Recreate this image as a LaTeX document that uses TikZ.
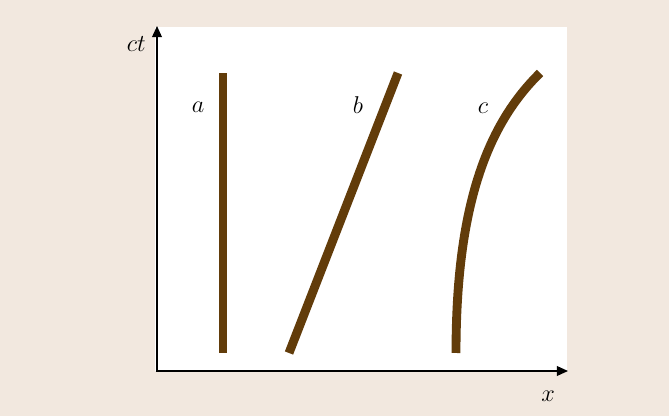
\documentclass[tikz,border=0pt]{standalone}
\usepackage{amsmath}
\usetikzlibrary{arrows.meta}
\definecolor{beige}{RGB}{242,232,223}
\definecolor{worldbrown}{RGB}{98,60,10}
\tikzset{>={Triangle[length=8pt,width=7pt]},every node/.style={font=\fontsize{17}{20}\selectfont},
  axis/.style={line width=1.1pt,->},worldline/.style={line width=6.3pt,worldbrown}}

\begin{document}
\begin{tikzpicture}
\fill[beige] (0,0) rectangle (16.725,10.4);\useasboundingbox (0,0) rectangle (16.725,10.4);
\fill[white] (3.875,1.125) rectangle (14.175,9.725);
\coordinate (O) at (3.925,1.125);\coordinate (T) at (3.925,9.75);\coordinate (X) at (14.2,1.125);
\draw[axis] (O)--(T);\draw[axis] ([xshift=-.6pt]O)--(X);
\node (ct) at (3.41,9.3){$ct$};\node (xl) at (13.7,.5){$x$};
% world lines
\draw[worldline] (5.575,1.575)--(5.575,8.575);
\draw[worldline] (7.225,1.575)--(9.95,8.575);
\draw[worldline] (11.4,1.575)..controls (11.4,5.3) and (12.2,7.3)..(13.5,8.575);
\node (a) at (4.95,7.725){$a$};\node (b) at (8.95,7.775){$b$};\node (c) at (12.075,7.7){$c$};
\end{tikzpicture}
\end{document}
